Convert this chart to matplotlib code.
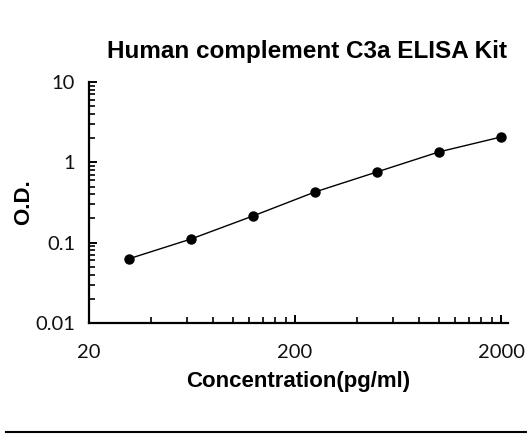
import numpy as np
import matplotlib
matplotlib.use("Agg")
import matplotlib.pyplot as plt
from matplotlib.lines import Line2D
from matplotlib.ticker import FixedLocator, NullFormatter

# Standard curve: concentration (pg/ml) vs optical density
conc = [31.25, 62.5, 125, 250, 500, 1000, 2000]
od = [0.063, 0.111, 0.215, 0.428, 0.76, 1.35, 2.07]

x_major = [20, 200, 2000]
x_minor = [40, 60, 80, 100, 120, 140, 160, 180,
           400, 600, 800, 1000, 1200, 1400, 1600, 1800]
y_major = [0.01, 0.1, 1, 10]
y_labels = ["0.01", "0.1", "1", "10"]

TICK_FONT = "Lato"
BOLD_FONT = "Liberation Sans"


def main():
    fig = plt.figure(figsize=(5.27, 4.34), dpi=100)
    ax = fig.add_axes([0.1689, 0.2558, 0.7951, 0.5552])

    ax.plot(conc, od, color="black", lw=1.0, marker="o", ms=6.5,
            markerfacecolor="black", markeredgecolor="black")

    ax.set_xscale("log")
    ax.set_yscale("log")
    ax.set_xlim(20, 2160)
    ax.set_ylim(0.01, 10)

    ax.xaxis.set_major_locator(FixedLocator(x_major))
    ax.xaxis.set_minor_locator(FixedLocator(x_minor))
    ax.set_xticklabels([str(v) for v in x_major])
    ax.xaxis.set_minor_formatter(NullFormatter())

    ax.yaxis.set_major_locator(FixedLocator(y_major))
    y_minor = [m * d for d in (0.01, 0.1, 1) for m in range(2, 10)]
    ax.yaxis.set_minor_locator(FixedLocator(y_minor))
    ax.set_yticklabels(y_labels)
    ax.yaxis.set_minor_formatter(NullFormatter())

    for side in ("top", "right"):
        ax.spines[side].set_visible(False)
    for side in ("left", "bottom"):
        ax.spines[side].set_linewidth(1.6)

    ax.tick_params(which="major", direction="in", length=6, width=1.4)
    ax.tick_params(which="minor", direction="in", length=4, width=1.2)
    ax.tick_params(axis="x", which="major", pad=15)
    ax.tick_params(axis="y", which="major", pad=10)
    for lab in ax.get_xticklabels() + ax.get_yticklabels():
        lab.set_fontfamily(TICK_FONT)
        lab.set_fontsize(14.5)
        lab.set_color("#111111")

    ax.set_title("Human complement C3a ELISA Kit", fontfamily=BOLD_FONT,
                 fontweight="bold", fontsize=17.5, pad=17, x=0.52)
    ax.set_xlabel("Concentration(pg/ml)", fontfamily=BOLD_FONT,
                  fontweight="bold", fontsize=16, labelpad=7)
    ax.set_ylabel("O.D.", fontfamily=BOLD_FONT, fontweight="bold",
                  fontsize=16)
    ax.yaxis.set_label_coords(-0.132, 0.5)

    # rule across the bottom of the figure
    fig.add_artist(Line2D([0.012, 1.0], [0.005, 0.005], color="black",
                          lw=1.5, transform=fig.transFigure))

    fig.savefig("out.png", dpi=100)


if __name__ == "__main__":
    main()
